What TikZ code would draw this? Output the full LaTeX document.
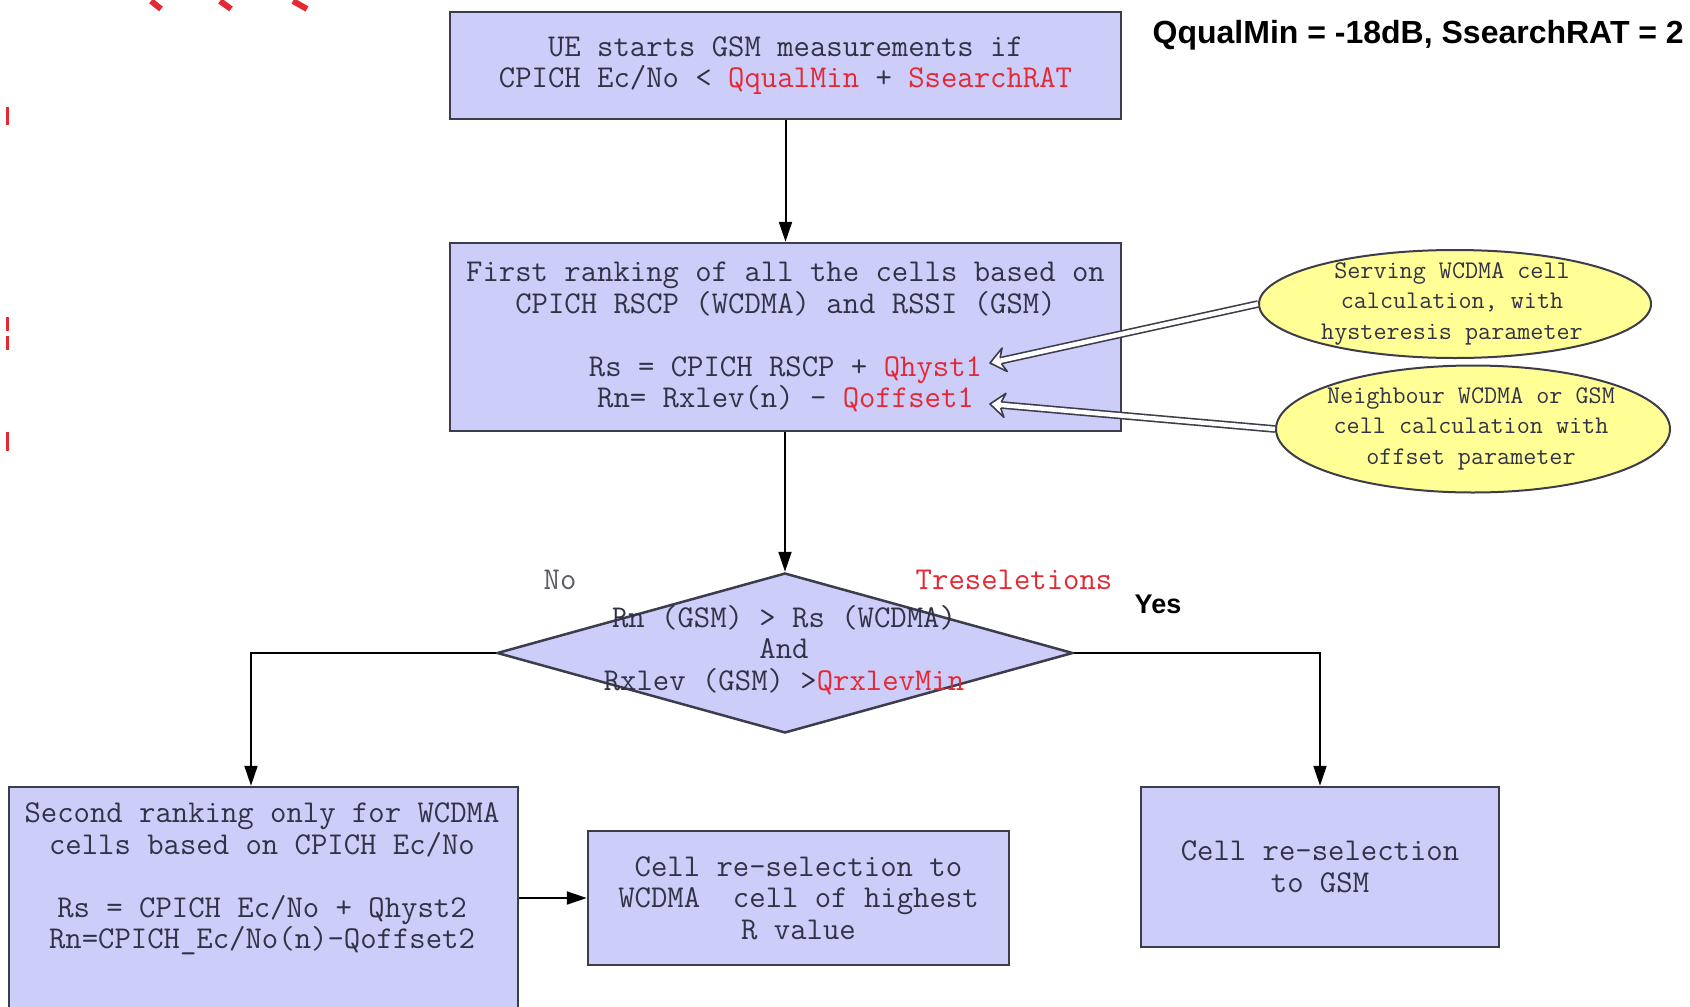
\documentclass[tikz,border=0pt]{standalone}
\usepackage{fontspec}
\newfontfamily\arialf{Liberation Sans}
\newcommand{\diagf}{\ttfamily\addfontfeatures{FakeBold=1.8}}
\usetikzlibrary{arrows.meta,shapes.geometric,calc}
\definecolor{boxfill}{RGB}{205,205,250}
\definecolor{bordc}{RGB}{60,60,75}
\definecolor{txtc}{RGB}{50,50,70}
\definecolor{redc}{RGB}{228,40,52}
\definecolor{ellfill}{RGB}{255,255,150}
% hollow double-line arrow from #1 to #2
\newcommand{\dblarr}[2]{%
  \draw[dblshaft] (#1) -- ($(#2)!11pt!(#1)$);
  \filldraw[dbltip] ($(#2)!11pt!(#1)!3.05pt!90:(#2)$) -- ($(#2)!15pt!(#1)!12pt!90:(#2)$) -- (#2)
     -- ($(#2)!15pt!(#1)!12pt!-90:(#2)$) -- ($(#2)!11pt!(#1)!3.05pt!-90:(#2)$);
}
\begin{document}
\begin{tikzpicture}[x=1pt,y=-1pt,
  box/.style={draw=bordc, line width=2.5pt, fill=boxfill, rectangle, inner sep=0pt, align=center, text=txtc,
    font={\diagf\fontsize{31.8}{31.5}\selectfont}},
  txt/.style={align=center, text=txtc, inner sep=0pt, font={\diagf\fontsize{31.8}{31.5}\selectfont}},
  etxt/.style={align=center, text=txtc, inner sep=0pt, font={\diagf\fontsize{25.4}{30.5}\selectfont}},
  ell/.style={draw=bordc, line width=2pt, fill=ellfill, ellipse, inner sep=0pt},
  arr/.style={draw=black, line width=2pt, -{Triangle[length=20pt,width=13pt]}},
  dblshaft/.style={draw=bordc, line width=1.6pt, double=white, double distance=4.5pt},
  dbltip/.style={draw=bordc, fill=white, line width=1.6pt, line join=round}]
\useasboundingbox (0,0) rectangle (1690,1007);
\fill[white] (0,0) rectangle (1690,1007);
% stray red marks
\draw[redc, line width=6pt] (151,1) -- (161,9) (220,1) -- (231,9) (293,1) -- (307,9);
\draw[redc, line width=3pt] (7,107) -- (7,125) (7,317) -- (7,331) (7,336) -- (7,350) (7,432) -- (7,451);
% title
\node[anchor=east, inner sep=0pt, font={\arialf\bfseries\fontsize{32}{36}\selectfont}] (title) at (1684,35) {QqualMin = -18dB, SsearchRAT = 2};
% boxes
\node[box, minimum width=671pt, minimum height=107pt] (tb) at (785.5,65.5)
  {UE starts GSM measurements if\\CPICH Ec/No < \textcolor{redc}{QqualMin} + \textcolor{redc}{SsearchRAT}};
\node[box, minimum width=671pt, minimum height=188pt] (sb) at (785.5,337)
  {First ranking of all the cells based on\\CPICH RSCP (WCDMA) and RSSI (GSM)\\[31.5pt]
   Rs = CPICH RSCP + \textcolor{redc}{Qhyst1}\\Rn= Rxlev(n) - \textcolor{redc}{Qoffset1}};
\node[diamond, draw=bordc, line width=2.5pt, fill=boxfill, inner sep=0pt, minimum width=576pt, minimum height=160pt] (d) at (785,653) {};
\node[txt] (dt) at (784,650) {Rn (GSM) > Rs (WCDMA)\\And\\Rxlev (GSM) >\textcolor{redc}{QrxlevMin}};
\node[box, minimum width=509pt, minimum height=222pt] (lb) at (263.5,898) {};
\node[txt] (lbt) at (262,879) {Second ranking only for WCDMA\\cells based on CPICH Ec/No\\[31.5pt]
   Rs = CPICH Ec/No + Qhyst2\\Rn=CPICH\_Ec/No(n)-Qoffset2};
\node[box, minimum width=421pt, minimum height=134pt] (mb) at (798.5,898)
  {Cell re-selection to\\WCDMA\ \ cell of highest\\R value};
\node[box, minimum width=358pt, minimum height=160pt] (rb) at (1320,867)
  {Cell re-selection\\to GSM};
% ellipses
\node[ell, minimum width=392pt, minimum height=108pt] (e1) at (1455,304) {};
\node[etxt] (e1t) at (1452,303.5) {Serving WCDMA cell\\calculation, with\\hysteresis parameter};
\node[ell, minimum width=394pt, minimum height=127pt] (e2) at (1473,429) {};
\node[etxt] (e2t) at (1471,428.5) {Neighbour WCDMA or GSM\\cell calculation with\\offset parameter};
% labels
\node[txt, text=txtc!80] (no) at (560,580) {No};
\node[txt, text=redc] (tres) at (1014,580) {Treseletions};
\node[inner sep=0pt, font={\arialf\bfseries\fontsize{27}{30}\selectfont}] (yes) at (1158,604) {Yes};
% connectors
\coordinate (h1) at (990,363);
\coordinate (h2) at (990,404);
\draw[arr] (tb.south) -- (sb.north -| tb.south);
\draw[arr] (sb.south -| d.north) -- (d.north);
\draw[arr] (d.west) -| ([xshift=-12.5pt]lb.north);
\draw[arr] (d.east) -| (rb.north);
\draw[arr] (lb.east) -- (mb.west);
\dblarr{e1.west}{h1}
\dblarr{e2.west}{h2}
\end{tikzpicture}
\end{document}
